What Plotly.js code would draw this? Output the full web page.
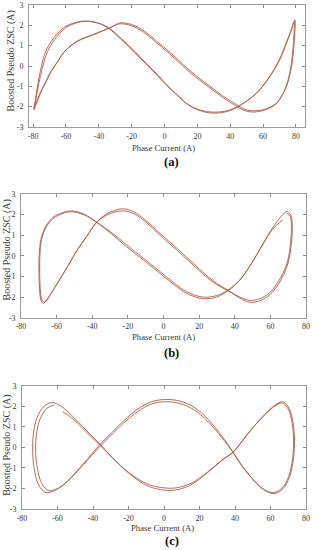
<!DOCTYPE html>
<html>
<head>
<meta charset="utf-8">
<script src="https://cdn.plot.ly/plotly-3.0.1.min.js"></script>
<style>html,body{margin:0;padding:0;background:#fff;}#chart{width:315px;height:550px;}</style>
</head>
<body>
<div id="chart"></div>
<script>
// ---------- panel (a) ----------
const aX1 = [79.4,77.0,74.3,70.2,64.2,56.1,47.9,39.8,29.7,21.6,14.0,7.4,0.0,-4.8,-12.0,-19.0,-27.0,-35.0,-42.0,-49.6,-55.0,-60.7,-65.0,-68.9,-72.0,-74.0,-76.0,-77.8,-79.0,-79.5,-78.0,-75.0,-71.5,-68.9,-64.5,-60.7,-52.6,-42.5,-32.4,-27.1,-20.0,-12.0,-4.8,3.5,11.4,19.5,27.7,36.0,43.9,48.5,53.0,60.1,68.2,71.5,74.3,77.4,78.9,79.4];
const aY1 = [2.27,1.70,1.14,0.32,-0.51,-1.33,-1.83,-2.16,-2.27,-2.16,-1.88,-1.42,-0.85,-0.43,0.15,0.73,1.35,1.90,2.14,2.21,2.12,1.93,1.62,1.22,0.78,0.30,-0.40,-1.20,-1.85,-2.16,-1.85,-1.25,-0.68,-0.26,0.27,0.73,1.25,1.58,1.92,2.12,2.04,1.70,1.22,0.66,0.07,-0.50,-1.00,-1.50,-1.91,-2.12,-2.20,-2.15,-1.83,-1.45,-1.00,0.00,1.14,2.27];
const aX2 = [78.8,76.5,73.8,69.7,63.7,55.6,47.5,39.6,30.5,22.6,15.0,8.4,1.0,-3.8,-11.0,-18.0,-26.0,-34.0,-41.0,-48.6,-54.0,-59.7,-64.0,-68.0,-71.2,-73.3,-75.5,-77.5,-78.8,-79.6,-78.6,-75.6,-72.0,-69.4,-65.0,-61.2,-53.0,-43.0,-33.0,-27.5,-20.5,-12.5,-5.3,3.0,10.9,19.0,27.2,35.5,43.4,48.0,52.5,59.6,67.7,71.0,73.8,76.9,78.4,78.8];
const aY2 = [2.18,1.64,1.10,0.28,-0.55,-1.36,-1.86,-2.20,-2.32,-2.22,-1.94,-1.47,-0.89,-0.46,0.12,0.71,1.33,1.88,2.13,2.20,2.11,1.91,1.59,1.17,0.72,0.22,-0.48,-1.28,-1.88,-2.08,-1.90,-1.30,-0.72,-0.30,0.23,0.69,1.21,1.54,1.88,2.07,1.99,1.65,1.17,0.61,0.02,-0.55,-1.05,-1.55,-1.96,-2.17,-2.26,-2.20,-1.88,-1.50,-1.05,-0.05,1.10,2.18];

// ---------- panel (b) ----------
const bX1 = [-51.7,-57.0,-61.8,-66.0,-68.8,-69.8,-69.9,-69.6,-68.8,-67.5,-65.5,-63.5,-59.0,-53.4,-48.7,-43.1,-37.5,-31.9,-23.5,-17.0,-10.0,-2.0,8.0,16.7,23.5,29.9,36.4,42.9,48.5,54.0,59.5,63.5,67.5,70.1,71.8,72.3,71.6,69.5,67.0,61.7,56.0,49.5,42.9,36.4,29.8,22.4,13.0,6.0,-2.0,-11.0,-20.7,-29.0,-37.5,-44.5,-51.7];
const bY1 = [2.18,2.08,1.88,1.45,0.80,0.00,-0.80,-1.60,-2.15,-2.30,-2.15,-1.88,-1.25,-0.45,0.25,0.95,1.63,2.03,2.28,2.15,1.72,1.09,0.33,-0.36,-0.90,-1.34,-1.68,-2.05,-2.25,-2.18,-1.90,-1.50,-0.90,-0.30,0.60,1.40,1.95,2.15,2.00,1.42,0.61,-0.36,-1.17,-1.68,-2.00,-2.08,-1.82,-1.40,-0.85,-0.22,0.44,1.05,1.63,2.02,2.18];
const bX2 = [67.0,61.5,55.5,49.0,42.5,36.2,29.8,22.0,13.0,6.0,-2.0,-11.0,-20.5,-29.0,-37.5,-44.5,-51.7,-57.0,-61.5,-65.7,-68.5,-69.4,-69.5,-69.2,-68.4,-67.2,-65.3,-63.3,-58.8,-53.2,-48.5,-43.0,-37.5,-32.0,-23.5,-17.0,-10.0,-2.0,8.0,16.7,23.5,29.9,36.4,42.9,48.5,54.0,59.5,63.3,67.2,69.7,71.3,71.8,71.2,69.3];
const bY2 = [1.74,1.32,0.52,-0.42,-1.20,-1.66,-1.93,-2.00,-1.74,-1.32,-0.76,-0.13,0.52,1.12,1.63,1.98,2.14,2.04,1.84,1.42,0.78,0.00,-0.80,-1.58,-2.10,-2.24,-2.10,-1.84,-1.22,-0.42,0.27,0.96,1.63,1.97,2.18,2.06,1.64,1.00,0.24,-0.45,-0.98,-1.40,-1.70,-2.00,-2.16,-2.08,-1.80,-1.40,-0.82,-0.25,0.60,1.38,1.90,2.08];

// ---------- panel (c) ----------
const cX1 = [73.5,72.5,70.0,66.0,61.5,56.0,50.0,44.0,39.0,33.0,25.0,17.0,9.0,1.0,-7.0,-15.0,-22.0,-29.0,-36.0,-43.0,-50.0,-57.0,-62.0,-66.5,-70.5,-73.0,-74.0,-73.5,-71.5,-67.5,-63.0,-58.0,-52.0,-44.0,-36.0,-29.0,-22.0,-15.0,-8.0,0.0,6.0,14.0,21.0,28.0,34.0,39.0,45.0,51.0,57.0,62.0,67.0,70.5,72.7,73.5];
const cY1 = [0.20,-0.80,-1.60,-2.10,-2.25,-2.05,-1.55,-0.90,-0.24,0.50,1.35,1.95,2.25,2.33,2.22,1.85,1.35,0.75,0.15,-0.55,-1.25,-1.85,-2.12,-2.20,-1.85,-1.10,-0.20,0.70,1.45,2.00,2.18,2.00,1.55,0.85,0.15,-0.50,-1.10,-1.58,-1.92,-2.08,-2.08,-1.88,-1.48,-0.98,-0.55,-0.24,0.40,1.05,1.62,2.02,2.22,1.90,1.20,0.20];
const cX2 = [-57.0,-51.5,-43.5,-36.0,-29.0,-22.0,-15.0,-8.0,0.0,6.0,14.0,21.0,28.0,34.0,39.0,45.0,51.0,57.0,62.0,66.5,70.0,72.2,73.0,72.0,69.5,65.5,61.0,55.5,49.5,43.5,38.5,32.5,24.5,16.5,8.5,1.0,-7.0,-14.5,-21.5,-28.5,-35.5,-42.0,-49.0,-55.5,-60.5,-65.0,-68.8,-71.3,-72.3,-71.8,-69.8,-66.0,-62.0];
const cY2 = [1.73,1.40,0.72,0.10,-0.52,-1.07,-1.52,-1.83,-1.97,-1.98,-1.80,-1.43,-0.95,-0.53,-0.22,0.42,1.06,1.60,1.98,2.16,1.86,1.18,0.20,-0.80,-1.58,-2.06,-2.20,-2.00,-1.50,-0.86,-0.20,0.48,1.28,1.85,2.14,2.22,2.11,1.76,1.28,0.70,0.10,-0.52,-1.18,-1.74,-2.02,-2.10,-1.76,-1.04,-0.20,0.66,1.38,1.90,2.06];

// ---------- ticks & labels ----------
const xTickVals = [-80,-60,-40,-20,0,20,40,60,80];
const xTickText = ['-80','-60','-40','-20','0','20','40','60','80'];
const yTickVals = [-3,-2,-1,0,1,2,3];
const yTickText = ['-3','-2','-1','0','1','2','3'];
const xTitle = 'Phase Current (A)';
const yTitle = 'Boosted Pseudo ZSC (A)';
const panelLabels = ['(a)','(b)','(c)'];

const W = 315, H = 550;
const FONT = 'Liberation Serif, Times New Roman, serif';
const col1 = '#c0553f', col2 = '#a4644a';

function tr(x, y, n, c) {
  return {x: x, y: y, type: 'scatter', mode: 'lines', xaxis: 'x' + (n === 1 ? '' : n), yaxis: 'y' + (n === 1 ? '' : n),
    line: {color: c, width: 0.9, shape: 'spline', smoothing: 1}, hoverinfo: 'skip', showlegend: false};
}
const data = [
  tr(aX1, aY1, 1, col1), tr(aX2, aY2, 1, col2),
  tr(bX1, bY1, 2, col1), tr(bX2, bY2, 2, col2),
  tr(cX1, cY1, 3, col1), tr(cX2, cY2, 3, col2)
];

// pixel boxes of the three plot areas [left, right, top, bottom]
const boxes = [[29, 305, 5, 127], [21, 306, 194, 317.7], [22, 306, 385.7, 509]];
const xRanges = [[-82.5, 85.5], [-80, 80], [-80, 80]];

function xa(i) {
  const b = boxes[i];
  return {domain: [b[0] / W, b[1] / W], range: xRanges[i], anchor: 'y' + (i === 0 ? '' : i + 1),
    tickvals: xTickVals, ticktext: xTickText, ticks: 'inside', ticklen: 3, tickcolor: '#8a8a8a',
    showline: true, mirror: 'ticks', linecolor: '#9a9a9a', linewidth: 1, showgrid: false, zeroline: false,
    tickfont: {family: FONT, size: 8, color: '#3a3a3a'}, ticklabelstandoff: 1, fixedrange: true};
}
function ya(i) {
  const b = boxes[i];
  return {domain: [1 - b[3] / H, 1 - b[2] / H], range: [-3, 3], anchor: 'x' + (i === 0 ? '' : i + 1),
    tickvals: yTickVals, ticktext: yTickText, ticks: 'inside', ticklen: 3, tickcolor: '#8a8a8a',
    showline: true, mirror: 'ticks', linecolor: '#9a9a9a', linewidth: 1, showgrid: false, zeroline: false,
    tickfont: {family: FONT, size: 8, color: '#3a3a3a'}, ticklabelstandoff: 3, fixedrange: true};
}

function ann(text, px, py, size, bold, angle) {
  return {text: bold ? '<b>' + text + '</b>' : text, x: px / W, y: 1 - py / H, xref: 'paper', yref: 'paper',
    xanchor: 'center', yanchor: 'middle', showarrow: false, textangle: angle || 0,
    font: {family: FONT, size: size, color: bold ? '#111' : '#3a3a3a'}};
}
const xTitlePos = [[163.5, 147.5], [163.3, 337], [162.7, 527.5]];
const yTitlePos = [[10.5, 61], [6.5, 250], [6.8, 445]];
const labelPos = [[171.5, 162], [171.5, 352.5], [172, 541]];
const annotations = [];
for (let i = 0; i < 3; i++) {
  annotations.push(ann(xTitle, xTitlePos[i][0], xTitlePos[i][1], 8.7, false));
  annotations.push(ann(yTitle, yTitlePos[i][0], yTitlePos[i][1], 10, false, -90));
  annotations.push(ann(panelLabels[i], labelPos[i][0], labelPos[i][1], 12.5, true));
}

const layout = {
  width: W, height: H, margin: {l: 0, r: 0, t: 0, b: 0}, paper_bgcolor: '#fff', plot_bgcolor: '#fff',
  showlegend: false,
  xaxis: xa(0), yaxis: ya(0), xaxis2: xa(1), yaxis2: ya(1), xaxis3: xa(2), yaxis3: ya(2),
  annotations: annotations
};
Plotly.newPlot('chart', data, layout, {displayModeBar: false, staticPlot: true});
</script>
</body>
</html>
